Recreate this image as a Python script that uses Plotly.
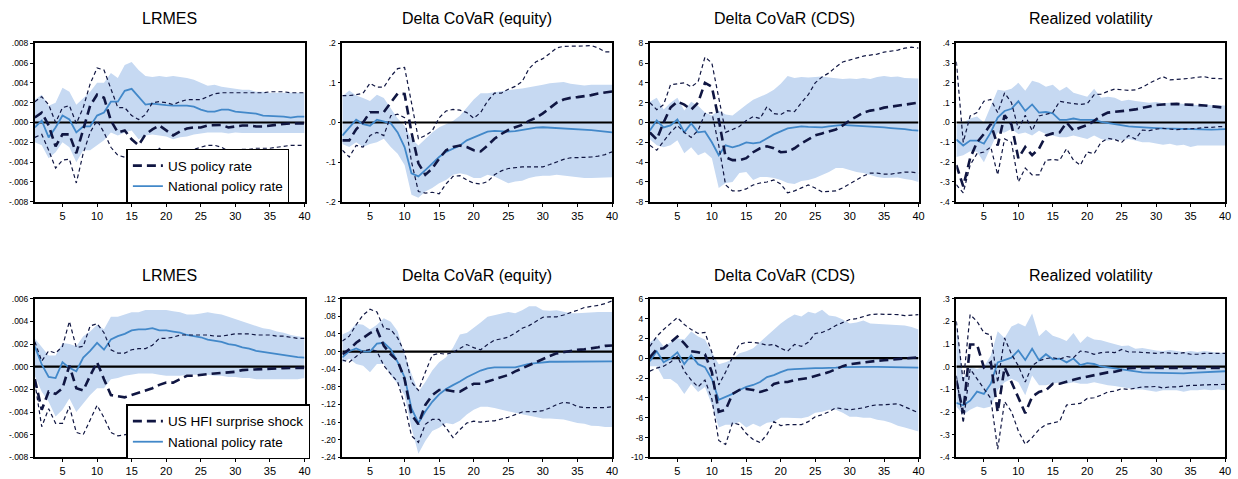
import plotly.graph_objects as go

horizon = list(range(1, 41))

titles = ["LRMES", "Delta CoVaR (equity)", "Delta CoVaR (CDS)", "Realized volatility",
          "LRMES", "Delta CoVaR (equity)", "Delta CoVaR (CDS)", "Realized volatility"]

legend_us_top = "US policy rate"
legend_us_bottom = "US HFI surprise shock"
legend_nat = "National policy rate"

# ---------------- Panel 1: LRMES (US policy rate) ----------------
p1_nat = [-0.0005, 0.0002, -0.0015, -0.0005, 0.0007, 0.0003, -0.001, -0.0004, -0.0004, 0.0007, 0.001, 0.0021, 0.0021, 0.0032, 0.0034, 0.0026, 0.0018, 0.0019, 0.0018, 0.00175, 0.0017, 0.0017, 0.0017, 0.0016, 0.0013, 0.0011, 0.0011, 0.0013, 0.0013, 0.0011, 0.00105, 0.001, 0.0009, 0.0007, 0.00066, 0.00066, 0.0006, 0.0005, 0.0006, 0.0006]
p1_nat_hi = [0.0023, 0.0028, 0.0017, 0.002, 0.0035, 0.0031, 0.0018, 0.0025, 0.0031, 0.004, 0.004, 0.005, 0.0045, 0.0058, 0.0061, 0.0053, 0.0047, 0.0046, 0.0047, 0.0046, 0.0047, 0.0046, 0.0045, 0.0043, 0.004, 0.0037, 0.0038, 0.0036, 0.0035, 0.0034, 0.0033, 0.0033, 0.0031, 0.0031, 0.003, 0.003, 0.003, 0.003, 0.003, 0.003]
p1_nat_lo = [-0.002, -0.0023, -0.0036, -0.003, -0.002, -0.0025, -0.004, -0.0028, -0.0028, -0.0023, -0.0018, -0.001, -0.0013, -0.001, -0.0008, -0.0017, -0.0013, -0.0012, -0.0013, -0.0014, -0.0017, -0.0015, -0.0014, -0.0012, -0.0011, -0.001, -0.001, -0.001, -0.0011, -0.001, -0.00105, -0.00105, -0.00105, -0.00105, -0.00105, -0.00105, -0.00105, -0.00105, -0.00105, -0.00105]
p1_us = [0.0005, 0.001, -0.0003, -0.0024, -0.0012, -0.0012, -0.0031, -0.0007, 0.0017, 0.0028, 0.0025, 0.0002, -0.001, -0.0008, -0.0017, -0.0023, -0.0012, -0.0007, -0.0003, -0.0008, -0.0013, -0.0009, -0.0006, -0.0005, -0.0005, -0.0003, -0.00025, -0.00025, -0.0005, -0.0004, -0.0003, -0.0003, -0.0004, -0.0004, -0.0003, -0.0002, -0.00015, -0.0001, -0.0001, -0.0001]
p1_us_hi = [0.0021, 0.0026, 0.0018, 0.0, 0.0015, 0.0017, -0.0001, 0.0015, 0.0039, 0.0055, 0.0053, 0.0035, 0.0015, 0.0015, 0.0007, 0.0003, 0.0008, 0.002, 0.0021, 0.002, 0.0018, 0.0021, 0.0023, 0.0023, 0.0023, 0.0026, 0.0029, 0.003, 0.003, 0.003, 0.003, 0.003, 0.003, 0.003, 0.0031, 0.0031, 0.0031, 0.003, 0.003, 0.003]
p1_us_lo = [-0.0015, -0.0012, -0.0028, -0.0046, -0.0038, -0.0037, -0.0061, -0.0031, -0.001, 0.0002, -0.001, -0.0025, -0.0033, -0.0035, -0.0036, -0.0038, -0.0036, -0.003, -0.0026, -0.0032, -0.0036, -0.0033, -0.0028, -0.0027, -0.0025, -0.0023, -0.0023, -0.0025, -0.0029, -0.0028, -0.0027, -0.0027, -0.0026, -0.0026, -0.0026, -0.0025, -0.0024, -0.0023, -0.0023, -0.0023]
p1_ticks = [-0.008, -0.006, -0.004, -0.002, 0.0, 0.002, 0.004, 0.006, 0.008]
p1_ticktext = ["-.008", "-.006", "-.004", "-.002", ".000", ".002", ".004", ".006", ".008"]

# ---------------- Panel 2: Delta CoVaR (equity) ----------------
p2_nat = [-0.033, -0.012, 0.007, -0.004, -0.008, 0.007, 0.003, -0.002, -0.025, -0.062, -0.128, -0.136, -0.12, -0.103, -0.087, -0.074, -0.066, -0.058, -0.045, -0.037, -0.029, -0.023, -0.021, -0.022, -0.023, -0.022, -0.019, -0.015, -0.013, -0.012, -0.013, -0.013, -0.015, -0.016, -0.017, -0.018, -0.019, -0.021, -0.023, -0.025]
p2_nat_hi = [0.066, 0.081, 0.068, 0.062, 0.054, 0.07, 0.062, 0.037, 0.01, -0.008, -0.041, -0.058, -0.041, -0.025, -0.012, -0.004, 0.004, 0.017, 0.037, 0.058, 0.074, 0.074, 0.076, 0.079, 0.081, 0.084, 0.086, 0.089, 0.091, 0.095, 0.099, 0.1, 0.102, 0.098, 0.095, 0.093, 0.095, 0.095, 0.096, 0.095]
p2_nat_lo = [-0.054, -0.062, -0.05, -0.062, -0.054, -0.05, -0.041, -0.062, -0.079, -0.107, -0.182, -0.19, -0.174, -0.165, -0.153, -0.145, -0.132, -0.128, -0.132, -0.14, -0.14, -0.132, -0.136, -0.145, -0.153, -0.149, -0.147, -0.14, -0.136, -0.134, -0.134, -0.132, -0.134, -0.136, -0.138, -0.14, -0.14, -0.139, -0.139, -0.138]
p2_us = [-0.045, -0.045, -0.017, 0.0, 0.026, 0.026, 0.026, 0.05, 0.073, 0.072, -0.025, -0.103, -0.132, -0.116, -0.091, -0.07, -0.062, -0.058, -0.062, -0.07, -0.073, -0.058, -0.041, -0.029, -0.019, -0.012, -0.006, 0.004, 0.012, 0.023, 0.037, 0.05, 0.058, 0.062, 0.064, 0.066, 0.069, 0.073, 0.075, 0.078]
p2_us_hi = [0.068, 0.068, 0.07, 0.074, 0.099, 0.089, 0.089, 0.116, 0.136, 0.139, 0.05, -0.041, -0.033, -0.021, 0.012, 0.029, 0.033, 0.031, 0.025, 0.011, 0.025, 0.054, 0.074, 0.074, 0.084, 0.091, 0.103, 0.136, 0.153, 0.161, 0.174, 0.188, 0.192, 0.192, 0.193, 0.193, 0.194, 0.188, 0.178, 0.178]
p2_us_lo = [-0.07, -0.087, -0.058, -0.062, -0.033, -0.025, -0.033, 0.017, 0.021, 0.012, -0.099, -0.174, -0.178, -0.176, -0.18, -0.155, -0.136, -0.134, -0.145, -0.153, -0.155, -0.149, -0.132, -0.122, -0.116, -0.114, -0.112, -0.112, -0.112, -0.112, -0.106, -0.099, -0.093, -0.089, -0.089, -0.088, -0.087, -0.085, -0.081, -0.074]
p2_ticks = [-0.2, -0.1, 0.0, 0.1, 0.2]
p2_ticktext = ["-.2", "-.1", ".0", ".1", ".2"]

# ---------------- Panel 3: Delta CoVaR (CDS) ----------------
p3_nat = [-0.8, 0.2, -0.5, -0.3, 0.3, -1.0, -0.1, -1.0, -0.9, -2.0, -3.3, -2.3, -2.5, -2.3, -2.0, -2.1, -2.0, -1.6, -1.2, -0.9, -0.6, -0.5, -0.4, -0.45, -0.5, -0.5, -0.4, -0.3, -0.25, -0.3, -0.33, -0.4, -0.43, -0.46, -0.5, -0.56, -0.6, -0.66, -0.76, -0.83]
p3_nat_hi = [2.1, 2.5, 1.3, 2.0, 2.5, 1.2, 2.1, 1.7, 1.0, 0.7, 1.2, 0.8, 0.7, 1.3, 1.8, 2.3, 2.6, 2.9, 3.3, 3.9, 4.7, 4.5, 4.6, 4.55, 4.6, 4.65, 4.55, 4.5, 4.4, 4.45, 4.4, 4.5, 4.4, 4.6, 4.7, 4.6, 4.65, 4.5, 4.45, 4.45]
p3_nat_lo = [-1.7, -2.3, -2.5, -2.3, -1.8, -3.1, -2.5, -3.3, -3.0, -3.6, -6.6, -6.1, -6.0, -5.1, -5.0, -5.8, -5.5, -5.5, -5.6, -5.8, -6.1, -6.2, -5.9, -5.8, -5.6, -5.3, -5.0, -4.6, -4.6, -4.8, -5.0, -5.1, -5.3, -5.5, -5.6, -5.55, -5.55, -5.7, -5.8, -6.0]
p3_us = [-1.0, -1.7, 0.0, 1.5, 2.1, 1.8, 1.3, 2.0, 4.0, 3.6, 0.3, -3.5, -3.8, -3.8, -3.6, -3.0, -2.6, -2.4, -2.6, -3.0, -2.95, -2.6, -2.1, -1.7, -1.3, -1.1, -0.9, -0.7, -0.3, 0.2, 0.6, 1.0, 1.2, 1.3, 1.5, 1.6, 1.7, 1.85, 1.95, 2.0]
p3_us_hi = [2.0, 1.3, 1.8, 3.8, 3.9, 4.0, 3.6, 4.1, 6.6, 6.0, 2.5, -1.0, -0.7, -0.4, 0.2, 0.6, 0.4, 1.6, 0.9, 0.8, 1.2, 1.1, 2.0, 2.8, 4.0, 4.6, 5.0, 5.6, 6.1, 6.3, 6.5, 6.7, 6.8, 6.9, 7.1, 7.2, 7.3, 7.5, 7.6, 7.5]
p3_us_lo = [-2.3, -2.8, -1.9, -1.0, -0.3, -1.0, -1.5, -0.8, 0.9, 1.0, -2.3, -6.3, -6.9, -6.9, -6.7, -6.3, -6.1, -6.0, -5.8, -6.2, -7.1, -6.9, -6.6, -6.3, -6.6, -7.0, -6.95, -6.9, -6.6, -6.2, -5.8, -5.4, -5.1, -5.1, -5.2, -5.2, -5.1, -5.0, -5.0, -5.1]
p3_ticks = [-8, -6, -4, -2, 0, 2, 4, 6, 8]
p3_ticktext = ["-8", "-6", "-4", "-2", "0", "2", "4", "6", "8"]

# ---------------- Panel 4: Realized volatility ----------------
p4_nat = [-0.086, -0.116, -0.091, -0.091, -0.107, -0.05, 0.025, 0.058, 0.069, 0.107, 0.058, 0.091, 0.05, 0.053, 0.046, 0.013, 0.013, 0.02, 0.013, 0.013, 0.013, 0.003, -0.003, -0.01, -0.017, -0.02, -0.022, -0.023, -0.025, -0.028, -0.03, -0.031, -0.033, -0.035, -0.036, -0.036, -0.036, -0.036, -0.035, -0.033]
p4_nat_hi = [-0.01, 0.0, 0.02, 0.03, 0.0, 0.08, 0.165, 0.16, 0.17, 0.2, 0.16, 0.21, 0.2, 0.18, 0.19, 0.16, 0.18, 0.15, 0.14, 0.13, 0.17, 0.125, 0.13, 0.125, 0.108, 0.115, 0.108, 0.105, 0.1, 0.103, 0.097, 0.1, 0.097, 0.093, 0.09, 0.088, 0.092, 0.087, 0.087, 0.086]
p4_nat_lo = [-0.174, -0.165, -0.145, -0.148, -0.2, -0.124, -0.05, -0.05, -0.033, -0.058, -0.05, -0.066, -0.041, -0.058, -0.066, -0.074, -0.074, -0.066, -0.074, -0.083, -0.066, -0.083, -0.091, -0.086, -0.091, -0.083, -0.091, -0.1, -0.1, -0.107, -0.112, -0.107, -0.116, -0.112, -0.124, -0.116, -0.116, -0.116, -0.116, -0.116]
p4_us = [-0.215, -0.322, -0.18, -0.1, -0.058, -0.008, -0.116, 0.036, -0.01, -0.18, -0.124, -0.165, -0.132, -0.066, -0.055, -0.05, 0.0, -0.041, -0.025, -0.013, 0.008, 0.033, 0.05, 0.053, 0.058, 0.061, 0.066, 0.074, 0.083, 0.088, 0.091, 0.094, 0.094, 0.091, 0.091, 0.088, 0.086, 0.083, 0.079, 0.074]
p4_us_hi = [0.306, -0.1, 0.033, 0.05, 0.107, 0.116, 0.05, 0.149, 0.1, -0.033, 0.036, -0.041, 0.033, 0.041, 0.05, 0.107, 0.1, 0.095, 0.091, 0.095, 0.14, 0.143, 0.157, 0.169, 0.165, 0.162, 0.165, 0.178, 0.198, 0.215, 0.231, 0.215, 0.218, 0.218, 0.223, 0.228, 0.231, 0.223, 0.223, 0.22]
p4_us_lo = [-0.314, -0.355, -0.215, -0.157, -0.149, -0.124, -0.264, -0.083, -0.1, -0.3, -0.23, -0.264, -0.264, -0.19, -0.187, -0.19, -0.132, -0.19, -0.215, -0.149, -0.157, -0.1, -0.08, -0.086, -0.1, -0.066, -0.083, -0.038, -0.041, -0.033, -0.03, -0.033, -0.036, -0.033, -0.033, -0.03, -0.025, -0.025, -0.021, -0.021]
p4_ticks = [-0.4, -0.3, -0.2, -0.1, 0.0, 0.1, 0.2, 0.3, 0.4]
p4_ticktext = ["-.4", "-.3", "-.2", "-.1", ".0", ".1", ".2", ".3", ".4"]

# ---------------- Panel 5: LRMES (US HFI surprise shock) ----------------
p5_nat = [0.0018, 0.0002, -0.0009, -0.001, 0.0004, -0.0001, -0.0004, 0.0008, 0.0014, 0.0021, 0.0015, 0.0024, 0.0027, 0.0029, 0.0032, 0.0033, 0.0033, 0.0034, 0.0032, 0.0032, 0.0031, 0.003, 0.0028, 0.0027, 0.0026, 0.0024, 0.0023, 0.0022, 0.002, 0.0019, 0.0017, 0.0016, 0.0014, 0.0013, 0.0012, 0.0011, 0.001, 0.0009, 0.00085, 0.0008]
p5_nat_hi = [0.0025, 0.0017, 0.001, 0.001, 0.0021, 0.002, 0.0018, 0.0027, 0.0031, 0.0037, 0.0033, 0.0044, 0.0044, 0.0046, 0.0048, 0.0048, 0.005, 0.005, 0.005, 0.005, 0.0049, 0.0048, 0.0046, 0.0046, 0.0047, 0.0048, 0.0047, 0.0046, 0.0044, 0.0042, 0.004, 0.0038, 0.0036, 0.0034, 0.0033, 0.0031, 0.003, 0.0028, 0.0027, 0.0026]
p5_nat_lo = [-0.0008, -0.0022, -0.0031, -0.0044, -0.0038, -0.0028, -0.004, -0.0032, -0.0025, -0.0019, -0.0019, -0.0011, -0.001, -0.0008, -0.0007, -0.0006, -0.0006, -0.0006, -0.0007, -0.0008, -0.0008, -0.0008, -0.0007, -0.0007, -0.0007, -0.0007, -0.0008, -0.0008, -0.0009, -0.0009, -0.001, -0.001, -0.0011, -0.0011, -0.0011, -0.0011, -0.0011, -0.0011, -0.0011, -0.001]
p5_us = [-0.0011, -0.0038, -0.0022, -0.0024, -0.0019, 0.0001, -0.0019, -0.0021, -0.0008, 0.0004, -0.0011, -0.0025, -0.0026, -0.0027, -0.0025, -0.0023, -0.0021, -0.0019, -0.0016, -0.0014, -0.0014, -0.0011, -0.0008, -0.0008, -0.0007, -0.00065, -0.0006, -0.00055, -0.0005, -0.00045, -0.0003, -0.00028, -0.00025, -0.00025, -0.0002, -0.00015, -0.00012, -0.0001, -0.0001, -0.0001]
p5_us_hi = [0.0022, 0.0005, 0.0014, 0.0012, 0.0018, 0.004, 0.0017, 0.0018, 0.0036, 0.0038, 0.003, 0.0015, 0.0012, 0.0012, 0.0015, 0.0016, 0.0016, 0.0019, 0.0025, 0.0025, 0.0026, 0.0028, 0.0028, 0.0028, 0.0028, 0.0028, 0.0027, 0.0027, 0.0028, 0.0029, 0.0029, 0.0029, 0.0028, 0.0028, 0.0028, 0.0027, 0.0027, 0.0026, 0.0025, 0.0025]
p5_us_lo = [-0.0014, -0.0053, -0.0037, -0.005, -0.005, -0.0035, -0.0058, -0.006, -0.0047, -0.0034, -0.0045, -0.0058, -0.0061, -0.006, -0.0059, -0.0058, -0.0057, -0.0055, -0.0054, -0.0053, -0.0052, -0.005, -0.0049, -0.0048, -0.0047, -0.0046, -0.0045, -0.0044, -0.0043, -0.0042, -0.0042, -0.0042, -0.0041, -0.004, -0.004, -0.004, -0.004, -0.004, -0.004, -0.004]
p5_ticks = [-0.008, -0.006, -0.004, -0.002, 0.0, 0.002, 0.004, 0.006]
p5_ticktext = ["-.008", "-.006", "-.004", "-.002", ".000", ".002", ".004", ".006"]

# ---------------- Panel 6: Delta CoVaR (equity) ----------------
p6_nat = [-0.013, 0.001, 0.007, 0.0, 0.0, 0.018, 0.02, 0.005, -0.024, -0.058, -0.129, -0.162, -0.136, -0.114, -0.097, -0.085, -0.076, -0.068, -0.058, -0.05, -0.043, -0.038, -0.036, -0.036, -0.036, -0.036, -0.032, -0.028, -0.026, -0.024, -0.023, -0.023, -0.023, -0.023, -0.023, -0.023, -0.023, -0.022, -0.022, -0.022]
p6_nat_hi = [0.039, 0.046, 0.063, 0.061, 0.05, 0.061, 0.076, 0.068, 0.046, -0.006, -0.05, -0.091, -0.069, -0.043, -0.024, -0.013, 0.009, 0.039, 0.042, 0.053, 0.066, 0.079, 0.083, 0.087, 0.09, 0.087, 0.094, 0.103, 0.103, 0.094, 0.093, 0.094, 0.09, 0.087, 0.087, 0.088, 0.09, 0.09, 0.09, 0.09]
p6_nat_lo = [-0.025, -0.016, -0.028, -0.032, -0.047, -0.028, -0.028, -0.054, -0.073, -0.099, -0.173, -0.232, -0.203, -0.18, -0.173, -0.162, -0.165, -0.157, -0.143, -0.132, -0.125, -0.125, -0.128, -0.132, -0.136, -0.139, -0.142, -0.145, -0.149, -0.152, -0.152, -0.153, -0.154, -0.158, -0.162, -0.164, -0.168, -0.169, -0.171, -0.171]
p6_us = [-0.006, 0.005, 0.02, 0.031, 0.042, 0.05, 0.013, -0.006, -0.021, -0.062, -0.143, -0.165, -0.121, -0.099, -0.087, -0.087, -0.09, -0.091, -0.082, -0.073, -0.073, -0.068, -0.063, -0.058, -0.053, -0.045, -0.038, -0.03, -0.023, -0.016, -0.01, -0.004, -0.001, 0.001, 0.004, 0.005, 0.007, 0.01, 0.013, 0.014]
p6_us_hi = [0.024, 0.035, 0.061, 0.083, 0.096, 0.09, 0.053, 0.05, 0.031, -0.002, -0.069, -0.088, -0.047, -0.008, -0.004, -0.006, -0.002, 0.007, 0.016, 0.009, 0.004, 0.016, 0.026, 0.029, 0.033, 0.042, 0.053, 0.059, 0.068, 0.078, 0.079, 0.079, 0.083, 0.088, 0.094, 0.1, 0.102, 0.105, 0.109, 0.115]
p6_us_lo = [-0.019, -0.024, -0.011, 0.001, 0.005, 0.001, -0.032, -0.05, -0.069, -0.121, -0.191, -0.206, -0.165, -0.154, -0.154, -0.173, -0.195, -0.177, -0.162, -0.158, -0.16, -0.158, -0.157, -0.153, -0.149, -0.143, -0.137, -0.136, -0.136, -0.134, -0.128, -0.12, -0.115, -0.117, -0.125, -0.127, -0.127, -0.127, -0.127, -0.125]
p6_ticks = [-0.24, -0.2, -0.16, -0.12, -0.08, -0.04, 0.0, 0.04, 0.08, 0.12]
p6_ticktext = ["-.24", "-.20", "-.16", "-.12", "-.08", "-.04", ".00", ".04", ".08", ".12"]

# ---------------- Panel 7: Delta CoVaR (CDS) ----------------
p7_nat = [-0.3, 0.7, -0.4, 0.0, 0.6, -0.6, 0.3, -0.6, -0.9, -2.1, -4.2, -3.9, -3.6, -3.2, -2.9, -2.7, -2.4, -1.9, -1.7, -1.4, -1.15, -1.1, -1.05, -1.0, -1.0, -1.0, -1.0, -0.95, -0.9, -0.88, -0.88, -0.88, -0.88, -0.88, -0.9, -0.9, -0.9, -0.9, -0.95, -0.95]
p7_nat_hi = [1.6, 2.1, 1.2, 1.6, 2.0, 1.9, 2.7, 2.2, 1.9, 0.6, -0.6, -0.4, -0.1, 0.5, 0.7, 1.0, 1.6, 2.3, 2.9, 3.5, 4.0, 4.4, 4.2, 4.7, 4.5, 4.9, 4.3, 4.2, 3.9, 3.5, 3.6, 3.8, 3.5, 3.45, 3.4, 3.4, 3.3, 3.3, 3.15, 2.9]
p7_nat_lo = [-0.8, -0.8, -2.1, -2.1, -2.6, -3.6, -2.6, -3.4, -2.9, -4.7, -7.0, -6.7, -6.7, -6.4, -7.0, -6.6, -6.9, -6.5, -6.4, -6.0, -6.0, -6.0, -6.05, -5.9, -5.5, -5.4, -5.2, -5.2, -5.5, -5.9, -5.9, -6.0, -6.0, -6.2, -6.3, -6.5, -6.8, -7.0, -7.2, -7.4]
p7_us = [0.1, 0.9, 1.0, 1.6, 2.2, 1.5, 0.7, 0.6, 0.4, -1.4, -5.4, -5.2, -3.6, -3.2, -3.1, -3.2, -3.4, -3.2, -2.6, -2.4, -2.4, -2.2, -2.1, -2.0, -1.8, -1.6, -1.4, -1.1, -0.8, -0.6, -0.5, -0.43, -0.33, -0.26, -0.2, -0.13, -0.07, -0.03, 0.03, 0.1]
p7_us_hi = [1.2, 2.2, 2.9, 3.5, 4.1, 3.4, 2.9, 2.5, 2.6, 0.6, -2.7, -1.4, 0.1, 1.4, 1.6, 1.6, 1.5, 1.3, 1.4, 1.0, 0.7, 1.4, 1.2, 1.6, 2.5, 2.6, 2.9, 3.3, 3.6, 3.9, 4.0, 4.2, 4.4, 4.45, 4.45, 4.45, 4.4, 4.3, 4.35, 4.4]
p7_us_lo = [-1.3, -1.0, -0.8, -0.4, 0.2, -1.3, -2.2, -2.9, -2.2, -4.1, -8.3, -8.7, -6.5, -6.7, -7.6, -8.2, -8.5, -7.7, -6.4, -6.8, -6.7, -6.7, -6.7, -6.4, -5.9, -5.7, -5.4, -5.0, -5.1, -5.2, -5.1, -5.0, -4.8, -4.7, -4.7, -4.65, -4.6, -4.9, -5.2, -5.5]
p7_ticks = [-10, -8, -6, -4, -2, 0, 2, 4, 6]
p7_ticktext = ["-10", "-8", "-6", "-4", "-2", "0", "2", "4", "6"]

# ---------------- Panel 8: Realized volatility ----------------
p8_nat = [-0.16, -0.17, -0.15, -0.11, -0.12, -0.075, 0.019, 0.029, 0.04, 0.072, 0.03, 0.079, 0.029, 0.055, 0.033, 0.036, 0.019, 0.036, 0.007, 0.016, 0.012, 0.001, -0.003, -0.007, -0.013, -0.017, -0.022, -0.025, -0.026, -0.027, -0.029, -0.029, -0.029, -0.029, -0.027, -0.026, -0.025, -0.025, -0.022, -0.02]
p8_nat_hi = [0.2, -0.05, 0.0, -0.01, 0.0, 0.05, 0.156, 0.127, 0.177, 0.192, 0.177, 0.235, 0.134, 0.163, 0.137, 0.127, 0.113, 0.149, 0.105, 0.134, 0.12, 0.117, 0.108, 0.098, 0.091, 0.094, 0.079, 0.083, 0.076, 0.072, 0.069, 0.074, 0.069, 0.065, 0.069, 0.065, 0.069, 0.065, 0.062, 0.062]
p8_nat_lo = [-0.176, -0.212, -0.19, -0.176, -0.183, -0.176, -0.104, -0.068, -0.053, -0.068, -0.126, -0.039, -0.082, -0.082, -0.075, -0.068, -0.075, -0.068, -0.075, -0.075, -0.068, -0.075, -0.082, -0.085, -0.09, -0.094, -0.1, -0.1, -0.104, -0.111, -0.104, -0.104, -0.104, -0.111, -0.104, -0.104, -0.1, -0.104, -0.1, -0.104]
p8_us = [-0.06, -0.205, 0.098, 0.098, -0.003, 0.019, -0.2, -0.003, -0.068, -0.133, -0.205, -0.133, -0.111, -0.104, -0.075, -0.075, -0.068, -0.058, -0.05, -0.043, -0.039, -0.032, -0.025, -0.022, -0.013, -0.007, -0.005, -0.005, -0.005, -0.005, -0.005, -0.005, -0.005, -0.005, -0.005, -0.005, -0.005, -0.005, -0.005, -0.005]
p8_us_hi = [0.2, -0.07, 0.23, 0.2, 0.15, 0.14, -0.07, 0.127, 0.055, 0.004, -0.068, 0.004, 0.026, 0.036, 0.04, 0.033, 0.045, 0.04, 0.069, 0.065, 0.055, 0.062, 0.065, 0.062, 0.076, 0.065, 0.065, 0.062, 0.062, 0.059, 0.062, 0.059, 0.058, 0.062, 0.055, 0.055, 0.059, 0.059, 0.059, 0.059]
p8_us_lo = [-0.04, -0.248, -0.01, -0.053, -0.097, -0.14, -0.364, -0.154, -0.198, -0.284, -0.342, -0.313, -0.277, -0.255, -0.248, -0.241, -0.169, -0.166, -0.162, -0.14, -0.137, -0.126, -0.111, -0.108, -0.097, -0.1, -0.094, -0.089, -0.089, -0.087, -0.094, -0.089, -0.089, -0.085, -0.082, -0.082, -0.079, -0.079, -0.079, -0.078]
p8_ticks = [-0.4, -0.3, -0.2, -0.1, 0.0, 0.1, 0.2, 0.3]
p8_ticktext = ["-.4", "-.3", "-.2", "-.1", ".0", ".1", ".2", ".3"]

x_ticks = [5, 10, 15, 20, 25, 30, 35, 40]

panels = [
    (p1_nat, p1_nat_lo, p1_nat_hi, p1_us, p1_us_lo, p1_us_hi, p1_ticks, p1_ticktext),
    (p2_nat, p2_nat_lo, p2_nat_hi, p2_us, p2_us_lo, p2_us_hi, p2_ticks, p2_ticktext),
    (p3_nat, p3_nat_lo, p3_nat_hi, p3_us, p3_us_lo, p3_us_hi, p3_ticks, p3_ticktext),
    (p4_nat, p4_nat_lo, p4_nat_hi, p4_us, p4_us_lo, p4_us_hi, p4_ticks, p4_ticktext),
    (p5_nat, p5_nat_lo, p5_nat_hi, p5_us, p5_us_lo, p5_us_hi, p5_ticks, p5_ticktext),
    (p6_nat, p6_nat_lo, p6_nat_hi, p6_us, p6_us_lo, p6_us_hi, p6_ticks, p6_ticktext),
    (p7_nat, p7_nat_lo, p7_nat_hi, p7_us, p7_us_lo, p7_us_hi, p7_ticks, p7_ticktext),
    (p8_nat, p8_nat_lo, p8_nat_hi, p8_us, p8_us_lo, p8_us_hi, p8_ticks, p8_ticktext),
]

# ---------------- layout geometry (pixels) ----------------
W, H = 1238, 479
col_px = [(35, 306), (344, 615), (653, 923), (961, 1231)]
row_px = [(39, 201), (300, 462)]
title_px = [14, 276]

BAND = "rgb(198,217,242)"
NAT = "rgb(66,136,201)"
NAVY = "rgb(16,22,66)"
FONT = "Liberation Sans, Arial, Helvetica, sans-serif"
US_DASH = "9px,5px"
BOUND_DASH = "4px,3px"

fig = go.Figure()
annotations = []
layout_axes = {}

# legend entries (entry-only traces so that the US series is listed first)
for lg, us_name, ya_ref, xa_ref in (("legend", legend_us_top, "y", "x"),
                                     ("legend2", legend_us_bottom, "y5", "x5")):
    fig.add_trace(go.Scatter(x=[None], y=[None], mode="lines", name=us_name,
                             line=dict(color=NAVY, width=2.6, dash=US_DASH),
                             legend=lg, showlegend=True, xaxis=xa_ref, yaxis=ya_ref))
    fig.add_trace(go.Scatter(x=[None], y=[None], mode="lines", name=legend_nat,
                             line=dict(color=NAT, width=1.8),
                             legend=lg, showlegend=True, xaxis=xa_ref, yaxis=ya_ref))

for i, (nat, nat_lo, nat_hi, us, us_lo, us_hi, yt, ytt) in enumerate(panels):
    r, c = divmod(i, 4)
    n = i + 1
    xa = "x" if n == 1 else f"x{n}"
    ya = "y" if n == 1 else f"y{n}"

    # confidence band for national policy rate
    fig.add_trace(go.Scatter(x=horizon, y=nat_lo, mode="lines", line=dict(width=0, color=BAND),
                             showlegend=False, hoverinfo="skip", xaxis=xa, yaxis=ya))
    fig.add_trace(go.Scatter(x=horizon, y=nat_hi, mode="lines", line=dict(width=0, color=BAND),
                             fill="tonexty", fillcolor=BAND, showlegend=False, hoverinfo="skip",
                             xaxis=xa, yaxis=ya))
    # zero line
    fig.add_trace(go.Scatter(x=[horizon[0], horizon[-1]], y=[0, 0], mode="lines",
                             line=dict(color="black", width=2.2), showlegend=False,
                             hoverinfo="skip", xaxis=xa, yaxis=ya))
    # national policy rate
    fig.add_trace(go.Scatter(x=horizon, y=nat, mode="lines", line=dict(color=NAT, width=1.8),
                             name=legend_nat, showlegend=False, xaxis=xa, yaxis=ya))
    # US bounds
    fig.add_trace(go.Scatter(x=horizon, y=us_hi, mode="lines",
                             line=dict(color=NAVY, width=1.2, dash=BOUND_DASH),
                             showlegend=False, xaxis=xa, yaxis=ya))
    fig.add_trace(go.Scatter(x=horizon, y=us_lo, mode="lines",
                             line=dict(color=NAVY, width=1.2, dash=BOUND_DASH),
                             showlegend=False, xaxis=xa, yaxis=ya))
    # US point estimate
    fig.add_trace(go.Scatter(x=horizon, y=us, mode="lines",
                             line=dict(color=NAVY, width=2.6, dash=US_DASH),
                             showlegend=False, xaxis=xa, yaxis=ya))

    x0, x1 = col_px[c]
    y0, y1 = row_px[r]
    axis_common = dict(showline=True, mirror=True, linecolor="black", linewidth=1.6,
                       ticks="outside", ticklen=3, tickwidth=1, tickcolor="black",
                       showgrid=False, zeroline=False)
    layout_axes["xaxis" if n == 1 else f"xaxis{n}"] = dict(
        domain=[x0 / W, x1 / W], anchor=ya, range=[horizon[0], horizon[-1]],
        tickvals=x_ticks, ticktext=[str(v) for v in x_ticks],
        tickfont=dict(family=FONT, size=11, color="black"), **axis_common)
    layout_axes["yaxis" if n == 1 else f"yaxis{n}"] = dict(
        domain=[1 - y1 / H, 1 - y0 / H], anchor=xa, range=[yt[0], yt[-1]],
        tickvals=yt, ticktext=ytt,
        tickfont=dict(family=FONT, size=8.5, color="black"), **axis_common)

    annotations.append(dict(text=titles[i], x=(x0 + x1) / 2 / W, y=1 - title_px[r] / H,
                            xref="paper", yref="paper", xanchor="center", yanchor="middle",
                            showarrow=False, font=dict(family=FONT, size=16, color="black")))

legend_common = dict(xanchor="left", yanchor="middle", bgcolor="white", bordercolor="black",
                     borderwidth=1.5, font=dict(family=FONT, size=13.5, color="black"),
                     tracegroupgap=0, itemwidth=30, traceorder="normal")

fig.update_layout(
    width=W, height=H,
    margin=dict(l=0, r=0, t=0, b=0),
    paper_bgcolor="white", plot_bgcolor="white",
    annotations=annotations,
    legend=dict(x=127 / W, y=1 - 175 / H, **legend_common),
    legend2=dict(x=127 / W, y=1 - 436 / H, **legend_common),
    **layout_axes,
)

fig.write_html("out.html")
